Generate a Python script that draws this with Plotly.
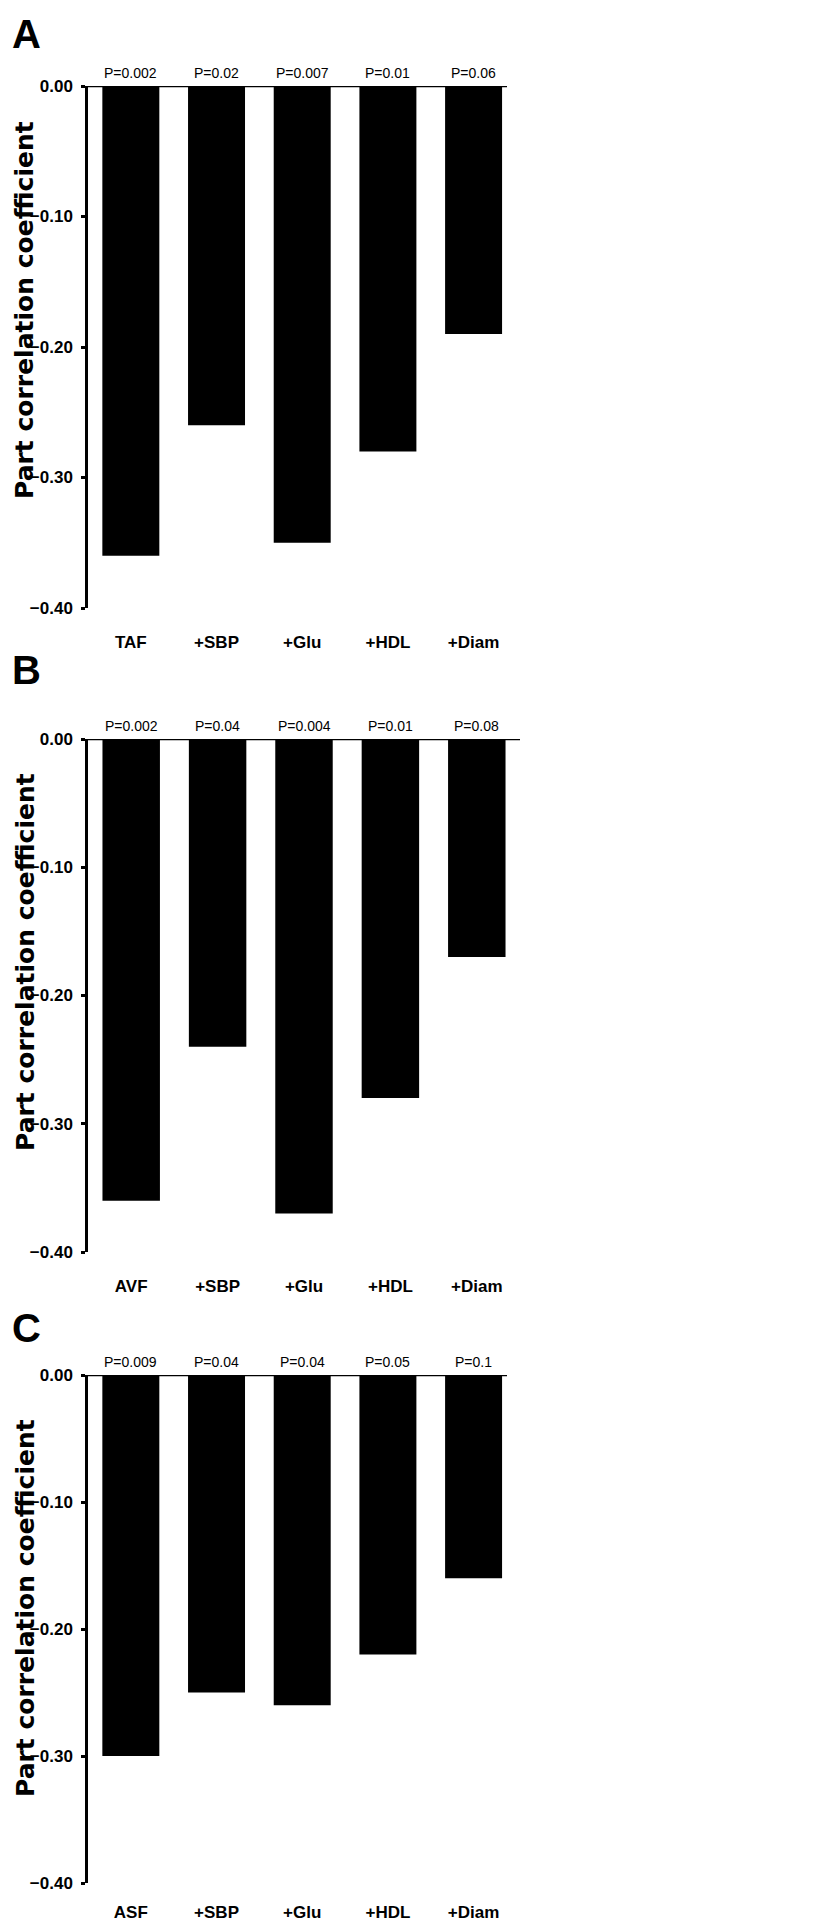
import plotly.graph_objects as go

# ---------------- data ----------------
categories_A = ["TAF", "+SBP", "+Glu", "+HDL", "+Diam"]
values_A = [-0.36, -0.26, -0.35, -0.28, -0.19]
pvals_A = ["P=0.002", "P=0.02", "P=0.007", "P=0.01", "P=0.06"]

categories_B = ["AVF", "+SBP", "+Glu", "+HDL", "+Diam"]
values_B = [-0.36, -0.24, -0.37, -0.28, -0.17]
pvals_B = ["P=0.002", "P=0.04", "P=0.004", "P=0.01", "P=0.08"]

categories_C = ["ASF", "+SBP", "+Glu", "+HDL", "+Diam"]
values_C = [-0.30, -0.25, -0.26, -0.22, -0.16]
pvals_C = ["P=0.009", "P=0.04", "P=0.04", "P=0.05", "P=0.1"]

panel_letters = ["A", "B", "C"]
y_title = "Part correlation coefficient"
y_ticks = [0.0, -0.1, -0.2, -0.3, -0.4]

# ---------------- layout constants ----------------
PAGE_W, PAGE_H = 829, 1931
BODY = 8                      # default browser body margin
W, H = PAGE_W - 2 * BODY, PAGE_H - 2 * BODY
SANS = "Liberation Sans, Arial, sans-serif"
WIDE = "DejaVu Sans, Verdana, sans-serif"

def px_x(px):
    return (px - BODY) / W

def px_y(px):
    return 1 - (px - BODY) / H

# page-pixel geometry of each panel:
# (top, bottom, left, right, x-range max, letter box top, title centre y, x-label standoff)
geom = [
    (86, 608, 88, 507, 4.39, 10, 310, 22),
    (739, 1252, 88, 520, 4.5, 646, 962, 22),
    (1375, 1883, 88, 507, 4.39, 1304, 1608, 17),
]

panels = [
    (categories_A, values_A, pvals_A),
    (categories_B, values_B, pvals_B),
    (categories_C, values_C, pvals_C),
]

fig = go.Figure()
annotations = []
shapes = []
layout_axes = {}

for i, ((cats, vals, ps), g) in enumerate(zip(panels, geom)):
    top, bot, left, right, xmax, ly, ty, stand = g
    suffix = "" if i == 0 else str(i + 1)
    xa, ya = "x" + suffix, "y" + suffix
    fig.add_trace(go.Bar(
        x=cats, y=vals, width=0.665,
        marker=dict(color="black", line=dict(width=0)),
        xaxis=xa, yaxis=ya, showlegend=False, hoverinfo="skip",
    ))
    layout_axes["xaxis" + suffix] = dict(
        domain=[px_x(left), px_x(right)], anchor=ya,
        range=[-0.5, xmax], type="category",
        showline=False, showgrid=False, zeroline=False, ticks="", ticklen=0,
        tickfont=dict(family=SANS, size=17, color="black", weight="bold"),
        ticklabelstandoff=stand, automargin=False,
        fixedrange=True,
    )
    layout_axes["yaxis" + suffix] = dict(
        domain=[px_y(bot), px_y(top)], anchor=xa,
        range=[-0.4, 0.0], tickmode="array", tickvals=y_ticks,
        tickformat=".2f",
        showline=True, linecolor="black", linewidth=2.5,
        ticks="outside", ticklen=4, tickwidth=2.5, tickcolor="black",
        showgrid=False, zeroline=False,
        tickfont=dict(family=SANS, size=17, color="black", weight="bold"),
        ticklabelstandoff=5, automargin=False,
        fixedrange=True,
    )
    # horizontal axis line at zero
    shapes.append(dict(
        type="line", xref=xa + " domain", yref=ya, x0=0, x1=1, y0=0, y1=0,
        line=dict(color="black", width=2.5), layer="above",
    ))
    # P-value labels
    for c, p in zip(cats, ps):
        annotations.append(dict(
            x=c, y=0, xref=xa, yref=ya, text=p, showarrow=False,
            yanchor="bottom", yshift=3,
            font=dict(family=SANS, size=14, color="black"),
        ))
    # panel letter
    annotations.append(dict(
        x=px_x(BODY + 2), y=px_y(ly), xref="paper", yref="paper",
        text=panel_letters[i],
        showarrow=False, xanchor="left", yanchor="top",
        font=dict(family=SANS, size=40, color="black", weight="bold"),
    ))
    # y-axis title
    annotations.append(dict(
        x=px_x(25), y=px_y(ty), xref="paper", yref="paper", text=y_title,
        showarrow=False, textangle=-90, xanchor="center", yanchor="middle",
        font=dict(family=WIDE, size=25, color="black", weight="bold"),
    ))

fig.update_layout(
    width=W, height=H,
    margin=dict(l=0, r=0, t=0, b=0, autoexpand=False),
    paper_bgcolor="white", plot_bgcolor="white",
    annotations=annotations, shapes=shapes,
    **layout_axes,
)

fig.write_html("out.html")
